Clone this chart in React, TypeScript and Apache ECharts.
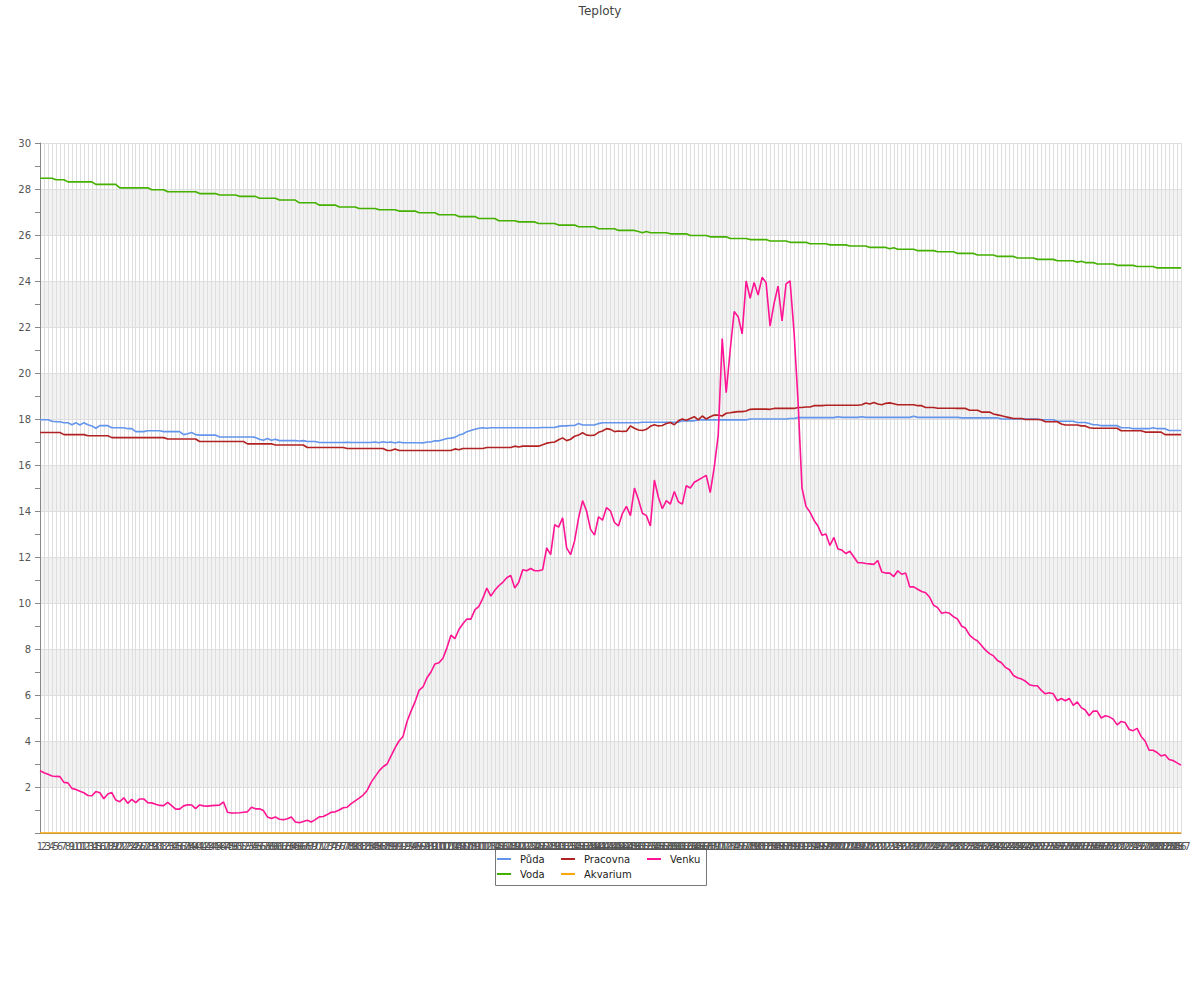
import React, { useEffect, useRef } from "react";
import * as echarts from "echarts";

const categories: string[] = Array.from({ length: 287 }, (_, i) => String(i + 1));

const yTicks = { min: 0, max: 30, interval: 2 };

const puda: number[] = [
  17.97, 17.97, 17.97, 17.9, 17.88, 17.88, 17.84, 17.84, 17.75, 17.84,
  17.74, 17.84, 17.75, 17.7, 17.6, 17.71, 17.71, 17.71, 17.62, 17.62,
  17.62, 17.62, 17.58, 17.58, 17.45, 17.45, 17.45, 17.49, 17.49, 17.49,
  17.49, 17.45, 17.45, 17.45, 17.45, 17.45, 17.32, 17.36, 17.41, 17.32,
  17.3, 17.3, 17.3, 17.3, 17.3, 17.22, 17.22, 17.22, 17.22, 17.22,
  17.22, 17.22, 17.22, 17.22, 17.2, 17.12, 17.08, 17.15, 17.08, 17.12,
  17.06, 17.06, 17.06, 17.06, 17.06, 17.04, 17.06, 17.02, 17.02, 17.02,
  16.98, 16.98, 16.98, 16.98, 16.98, 16.98, 16.98, 16.99, 16.98, 16.98,
  16.98, 16.98, 16.98, 16.98, 17.0, 16.97, 17.01, 16.98, 17.0, 16.96,
  17.0, 16.97, 16.97, 16.97, 16.97, 16.97, 16.96, 17.0, 17.0, 17.05,
  17.05, 17.1, 17.15, 17.17, 17.2, 17.3, 17.35, 17.45, 17.5, 17.55,
  17.6, 17.62, 17.6, 17.62, 17.62, 17.62, 17.62, 17.62, 17.62, 17.62,
  17.62, 17.62, 17.62, 17.62, 17.62, 17.62, 17.63, 17.63, 17.63, 17.63,
  17.68, 17.7, 17.7, 17.72, 17.72, 17.8, 17.74, 17.74, 17.74, 17.74,
  17.8, 17.84, 17.84, 17.84, 17.84, 17.84, 17.84, 17.84, 17.84, 17.84,
  17.84, 17.86, 17.86, 17.86, 17.86, 17.86, 17.86, 17.86, 17.86, 17.86,
  17.86, 17.92, 17.92, 17.92, 17.92, 17.96, 17.96, 17.96, 17.96, 17.96,
  17.96, 17.96, 17.96, 17.96, 17.96, 17.96, 17.96, 17.96, 18.0, 18.0,
  18.0, 18.0, 18.0, 18.0, 18.0, 18.0, 18.0, 18.0, 18.02, 18.02,
  18.06, 18.06, 18.06, 18.06, 18.06, 18.06, 18.06, 18.06, 18.06, 18.06,
  18.1, 18.07, 18.07, 18.07, 18.07, 18.07, 18.1, 18.07, 18.07, 18.07,
  18.07, 18.07, 18.07, 18.07, 18.07, 18.07, 18.07, 18.07, 18.07, 18.12,
  18.07, 18.07, 18.07, 18.07, 18.07, 18.07, 18.07, 18.07, 18.07, 18.07,
  18.07, 18.05, 18.05, 18.05, 18.05, 18.05, 18.05, 18.05, 18.05, 18.05,
  18.05, 18.0, 18.0, 18.0, 18.0, 18.0, 18.0, 18.0, 18.0, 18.0,
  18.0, 17.97, 17.97, 17.97, 17.97, 17.9, 17.9, 17.9, 17.9, 17.9,
  17.85, 17.85, 17.85, 17.8, 17.75, 17.75, 17.71, 17.71, 17.71, 17.71,
  17.71, 17.62, 17.62, 17.62, 17.58, 17.58, 17.58, 17.58, 17.58, 17.62,
  17.58, 17.58, 17.58, 17.5, 17.5, 17.5, 17.5,
];

const voda: number[] = [
  28.47, 28.47, 28.47, 28.47, 28.4, 28.4, 28.4, 28.31, 28.31, 28.31,
  28.31, 28.31, 28.31, 28.31, 28.2, 28.2, 28.2, 28.2, 28.2, 28.2,
  28.05, 28.05, 28.05, 28.05, 28.05, 28.05, 28.05, 28.05, 27.97, 27.97,
  27.97, 27.97, 27.88, 27.88, 27.88, 27.88, 27.88, 27.88, 27.88, 27.88,
  27.8, 27.8, 27.8, 27.8, 27.8, 27.74, 27.74, 27.74, 27.74, 27.74,
  27.68, 27.68, 27.68, 27.68, 27.68, 27.6, 27.6, 27.6, 27.6, 27.6,
  27.52, 27.52, 27.52, 27.52, 27.52, 27.4, 27.4, 27.4, 27.4, 27.4,
  27.3, 27.3, 27.3, 27.3, 27.3, 27.22, 27.22, 27.22, 27.22, 27.22,
  27.15, 27.15, 27.15, 27.15, 27.15, 27.1, 27.1, 27.1, 27.1, 27.1,
  27.04, 27.04, 27.04, 27.04, 27.04, 26.97, 26.97, 26.97, 26.97, 26.97,
  26.88, 26.88, 26.88, 26.88, 26.88, 26.8, 26.8, 26.8, 26.8, 26.8,
  26.72, 26.72, 26.72, 26.72, 26.72, 26.62, 26.62, 26.62, 26.62, 26.62,
  26.57, 26.57, 26.57, 26.57, 26.57, 26.5, 26.5, 26.5, 26.5, 26.5,
  26.43, 26.43, 26.43, 26.43, 26.43, 26.36, 26.36, 26.36, 26.36, 26.36,
  26.27, 26.27, 26.27, 26.27, 26.27, 26.2, 26.2, 26.2, 26.2, 26.2,
  26.15, 26.1, 26.15, 26.1, 26.1, 26.1, 26.1, 26.1, 26.05, 26.05,
  26.05, 26.05, 26.05, 25.98, 25.98, 25.98, 25.98, 25.98, 25.92, 25.92,
  25.92, 25.92, 25.92, 25.85, 25.85, 25.85, 25.85, 25.85, 25.8, 25.8,
  25.8, 25.8, 25.8, 25.74, 25.74, 25.74, 25.74, 25.74, 25.68, 25.68,
  25.68, 25.68, 25.68, 25.62, 25.62, 25.62, 25.62, 25.62, 25.57, 25.57,
  25.57, 25.57, 25.57, 25.52, 25.52, 25.52, 25.52, 25.52, 25.46, 25.46,
  25.46, 25.46, 25.46, 25.4, 25.45, 25.38, 25.38, 25.38, 25.38, 25.38,
  25.32, 25.32, 25.32, 25.32, 25.32, 25.27, 25.27, 25.27, 25.27, 25.27,
  25.2, 25.2, 25.2, 25.2, 25.2, 25.13, 25.13, 25.13, 25.13, 25.13,
  25.07, 25.07, 25.07, 25.07, 25.07, 25.0, 25.0, 25.0, 25.0, 25.0,
  24.94, 24.94, 24.94, 24.94, 24.94, 24.88, 24.88, 24.88, 24.88, 24.88,
  24.82, 24.86, 24.8, 24.8, 24.8, 24.74, 24.74, 24.74, 24.74, 24.74,
  24.68, 24.68, 24.68, 24.68, 24.68, 24.63, 24.63, 24.63, 24.63, 24.63,
  24.57, 24.57, 24.57, 24.57, 24.57, 24.57, 24.57,
];

const pracovna: number[] = [
  17.41, 17.41, 17.41, 17.41, 17.41, 17.41, 17.32, 17.32, 17.32, 17.32,
  17.32, 17.32, 17.27, 17.27, 17.27, 17.27, 17.27, 17.27, 17.19, 17.19,
  17.19, 17.19, 17.19, 17.19, 17.19, 17.19, 17.19, 17.19, 17.19, 17.19,
  17.19, 17.19, 17.13, 17.13, 17.13, 17.13, 17.13, 17.13, 17.13, 17.13,
  17.02, 17.02, 17.02, 17.02, 17.02, 17.02, 17.02, 17.02, 17.02, 17.02,
  17.02, 17.02, 16.92, 16.92, 16.92, 16.92, 16.92, 16.92, 16.92, 16.87,
  16.87, 16.87, 16.87, 16.87, 16.87, 16.87, 16.87, 16.76, 16.76, 16.76,
  16.76, 16.76, 16.76, 16.76, 16.76, 16.76, 16.76, 16.72, 16.72, 16.72,
  16.72, 16.72, 16.72, 16.72, 16.72, 16.72, 16.72, 16.63, 16.63, 16.7,
  16.63, 16.63, 16.63, 16.63, 16.63, 16.63, 16.63, 16.63, 16.63, 16.63,
  16.63, 16.63, 16.63, 16.63, 16.7, 16.66, 16.72, 16.72, 16.72, 16.72,
  16.72, 16.72, 16.76, 16.76, 16.76, 16.76, 16.76, 16.76, 16.76, 16.82,
  16.78, 16.82, 16.82, 16.82, 16.82, 16.82, 16.88, 16.95, 16.98, 17.0,
  17.1, 17.18, 17.06, 17.12, 17.25, 17.3, 17.4, 17.3, 17.28, 17.3,
  17.42, 17.48, 17.58, 17.55, 17.45, 17.48, 17.46, 17.47, 17.7, 17.6,
  17.52, 17.5, 17.55, 17.68, 17.75, 17.7, 17.72, 17.8, 17.85, 17.75,
  17.92, 18.0, 17.95, 18.02, 18.1, 17.96, 18.13, 18.0, 18.1, 18.17,
  18.17, 18.13, 18.25, 18.27, 18.3, 18.32, 18.32, 18.35, 18.42, 18.43,
  18.43, 18.43, 18.43, 18.42, 18.46, 18.46, 18.46, 18.46, 18.46, 18.46,
  18.5, 18.5, 18.52, 18.52, 18.58, 18.58, 18.58, 18.6, 18.6, 18.6,
  18.6, 18.6, 18.6, 18.6, 18.6, 18.6, 18.62, 18.7, 18.65, 18.72,
  18.65, 18.62, 18.68, 18.7, 18.66, 18.62, 18.62, 18.62, 18.62, 18.62,
  18.58, 18.58, 18.5, 18.5, 18.5, 18.47, 18.47, 18.47, 18.47, 18.47,
  18.46, 18.46, 18.46, 18.38, 18.38, 18.38, 18.3, 18.3, 18.3, 18.22,
  18.18, 18.14, 18.1, 18.06, 18.02, 18.02, 18.02, 17.98, 17.98, 17.98,
  17.98, 17.97, 17.88, 17.88, 17.88, 17.88, 17.78, 17.74, 17.74, 17.74,
  17.74, 17.7, 17.7, 17.62, 17.6, 17.6, 17.6, 17.6, 17.6, 17.6,
  17.6, 17.49, 17.49, 17.49, 17.49, 17.49, 17.49, 17.43, 17.43, 17.43,
  17.43, 17.43, 17.32, 17.32, 17.32, 17.32, 17.32,
];

const akvarium: number[] = [
  0, 0, 0, 0, 0, 0, 0, 0, 0, 0, 0, 0, 0, 0, 0, 0, 0, 0, 0, 0,
  0, 0, 0, 0, 0, 0, 0, 0, 0, 0, 0, 0, 0, 0, 0, 0, 0, 0, 0, 0,
  0, 0, 0, 0, 0, 0, 0, 0, 0, 0, 0, 0, 0, 0, 0, 0, 0, 0, 0, 0,
  0, 0, 0, 0, 0, 0, 0, 0, 0, 0, 0, 0, 0, 0, 0, 0, 0, 0, 0, 0,
  0, 0, 0, 0, 0, 0, 0, 0, 0, 0, 0, 0, 0, 0, 0, 0, 0, 0, 0, 0,
  0, 0, 0, 0, 0, 0, 0, 0, 0, 0, 0, 0, 0, 0, 0, 0, 0, 0, 0, 0,
  0, 0, 0, 0, 0, 0, 0, 0, 0, 0, 0, 0, 0, 0, 0, 0, 0, 0, 0, 0,
  0, 0, 0, 0, 0, 0, 0, 0, 0, 0, 0, 0, 0, 0, 0, 0, 0, 0, 0, 0,
  0, 0, 0, 0, 0, 0, 0, 0, 0, 0, 0, 0, 0, 0, 0, 0, 0, 0, 0, 0,
  0, 0, 0, 0, 0, 0, 0, 0, 0, 0, 0, 0, 0, 0, 0, 0, 0, 0, 0, 0,
  0, 0, 0, 0, 0, 0, 0, 0, 0, 0, 0, 0, 0, 0, 0, 0, 0, 0, 0, 0,
  0, 0, 0, 0, 0, 0, 0, 0, 0, 0, 0, 0, 0, 0, 0, 0, 0, 0, 0, 0,
  0, 0, 0, 0, 0, 0, 0, 0, 0, 0, 0, 0, 0, 0, 0, 0, 0, 0, 0, 0,
  0, 0, 0, 0, 0, 0, 0, 0, 0, 0, 0, 0, 0, 0, 0, 0, 0, 0, 0, 0,
  0, 0, 0, 0, 0, 0, 0,
];

const venku: number[] = [
  2.71, 2.62, 2.55, 2.48, 2.46, 2.45, 2.2, 2.18, 1.94, 1.89,
  1.82, 1.75, 1.63, 1.62, 1.8, 1.75, 1.49, 1.7, 1.76, 1.43,
  1.36, 1.53, 1.29, 1.46, 1.32, 1.48, 1.48, 1.32, 1.31, 1.25,
  1.2, 1.19, 1.33, 1.19, 1.04, 1.04, 1.18, 1.23, 1.22, 1.06,
  1.22, 1.18, 1.17, 1.19, 1.2, 1.21, 1.35, 0.9, 0.87, 0.87,
  0.88, 0.9, 0.92, 1.12, 1.05, 1.05, 0.98, 0.7, 0.63, 0.7,
  0.6, 0.58, 0.62, 0.7, 0.48, 0.45, 0.5, 0.55, 0.48, 0.58,
  0.7, 0.72, 0.8, 0.9, 0.92, 1.0, 1.1, 1.12, 1.28, 1.4,
  1.52, 1.65, 1.85, 2.2, 2.45, 2.7, 2.88, 3.0, 3.35, 3.7,
  4.0, 4.2, 4.85, 5.3, 5.7, 6.2, 6.35, 6.75, 7.0, 7.35,
  7.4, 7.6, 8.05, 8.6, 8.45, 8.85, 9.1, 9.3, 9.3, 9.7,
  9.85, 10.2, 10.65, 10.3, 10.55, 10.75, 10.9, 11.1, 11.2, 10.65,
  10.9, 11.45, 11.4, 11.5, 11.4, 11.4, 11.45, 12.4, 12.1, 13.4,
  13.3, 13.7, 12.4, 12.1, 12.7, 13.7, 14.45, 14.0, 13.2, 12.95,
  13.75, 13.6, 14.15, 14.0, 13.5, 13.35, 13.9, 14.2, 13.8, 15.0,
  14.5, 13.9, 13.8, 13.35, 15.35, 14.6, 14.1, 14.45, 14.3, 14.85,
  14.4, 14.3, 15.1, 15.0, 15.25, 15.35, 15.45, 15.55, 14.8, 15.9,
  17.3, 21.5, 19.14, 21.0, 22.67, 22.45, 21.7, 24.0, 23.25, 23.94,
  23.39, 24.16, 23.93, 22.04, 23.03, 23.78, 22.26, 23.87, 24.01, 21.8,
  18.8, 15.0, 14.2, 13.95, 13.6, 13.35, 12.95, 13.0, 12.5, 12.85,
  12.35, 12.3, 12.15, 12.25, 12.0, 11.75, 11.75, 11.72, 11.7, 11.68,
  11.85, 11.35, 11.3, 11.3, 11.15, 11.4, 11.25, 11.3, 10.7, 10.7,
  10.6, 10.5, 10.45, 10.25, 9.9, 9.8, 9.55, 9.6, 9.55, 9.4,
  9.3, 9.0, 8.9, 8.6, 8.45, 8.35, 8.15, 7.95, 7.8, 7.7,
  7.5, 7.4, 7.2, 7.1, 6.85, 6.75, 6.7, 6.6, 6.45, 6.4,
  6.4, 6.2, 6.05, 6.1, 6.05, 5.75, 5.85, 5.75, 5.85, 5.55,
  5.7, 5.45, 5.35, 5.1, 5.3, 5.3, 5.0, 5.1, 5.05, 4.95,
  4.7, 4.85, 4.8, 4.5, 4.45, 4.55, 4.2, 4.0, 3.6, 3.6,
  3.5, 3.35, 3.4, 3.2, 3.15, 3.05, 2.95,
];

const seriesNames = ["Půda", "Voda", "Pracovna", "Akvarium", "Venku"];
const seriesColors = ["#6495ed", "#44b000", "#b22222", "#ffa500", "#ff1493"];
const seriesData = [puda, voda, pracovna, akvarium, venku];

const FONT = "DejaVu Sans";

export default function App() {
  const ref = useRef<HTMLDivElement>(null);
  useEffect(() => {
    document.body.style.margin = "0";
    if (!ref.current) return;
    const chart = echarts.init(ref.current, null, { renderer: "svg" });
    const legendCommon = {
      orient: "vertical" as const,
      top: 854,
      padding: 0,
      itemWidth: 14,
      itemHeight: 2,
      itemGap: 5,
      icon: "rect",
      textStyle: { fontSize: 10, color: "#222", fontFamily: FONT, padding: [0, 0, 0, 4] },
    };
    chart.setOption({
      animation: false,
      backgroundColor: "#fff",
      textStyle: { fontFamily: FONT },
      color: seriesColors,
      title: {
        text: "Teploty",
        left: "center",
        top: 0,
        textStyle: { fontSize: 12, fontWeight: "normal", color: "#444", fontFamily: FONT },
      },
      legend: [
        { ...legendCommon, left: 497, data: ["Půda", "Voda"] },
        { ...legendCommon, left: 561, data: ["Pracovna", "Akvarium"] },
        { ...legendCommon, left: 647, data: ["Venku"] },
      ],
      graphic: [
        {
          type: "rect",
          shape: { x: 495.5, y: 848.5, width: 211, height: 37 },
          style: { fill: "none", stroke: "#777", lineWidth: 1 },
          silent: true,
        },
      ],
      grid: { left: 40, right: 19, top: 143, bottom: 167, containLabel: false },
      xAxis: {
        type: "category",
        data: categories,
        boundaryGap: false,
        axisLine: { show: true, lineStyle: { color: "#888" } },
        axisTick: { show: false },
        axisLabel: { interval: 0, fontSize: 10, color: "#555", margin: 8, fontFamily: FONT },
        splitLine: { show: true, interval: 0, lineStyle: { color: "#dedede", width: 1 } },
      },
      yAxis: {
        type: "value",
        min: yTicks.min,
        max: yTicks.max,
        interval: yTicks.interval,
        axisLine: { show: true, lineStyle: { color: "#888" } },
        axisTick: { show: true, length: 5, lineStyle: { color: "#888" } },
        minorTick: { show: true, splitNumber: 2, length: 5, lineStyle: { color: "#888" } },
        axisLabel: { fontSize: 10, color: "#555", margin: 9, showMinLabel: false, fontFamily: FONT },
        splitLine: { show: true, lineStyle: { color: "#dedede" } },
        splitArea: { show: true, areaStyle: { color: ["rgba(255,255,255,0)", "#f2f2f2"] } },
      },
      series: seriesNames.map((name, k) => ({
        name,
        type: "line",
        data: seriesData[k],
        symbol: "none",
        showSymbol: false,
        lineStyle: { width: 1.6, color: seriesColors[k] },
        itemStyle: { color: seriesColors[k] },
        z: 2 + k,
      })),
    });
    return () => chart.dispose();
  }, []);
  return <div ref={ref} style={{ width: 1200, height: 1000 }} />;
}
